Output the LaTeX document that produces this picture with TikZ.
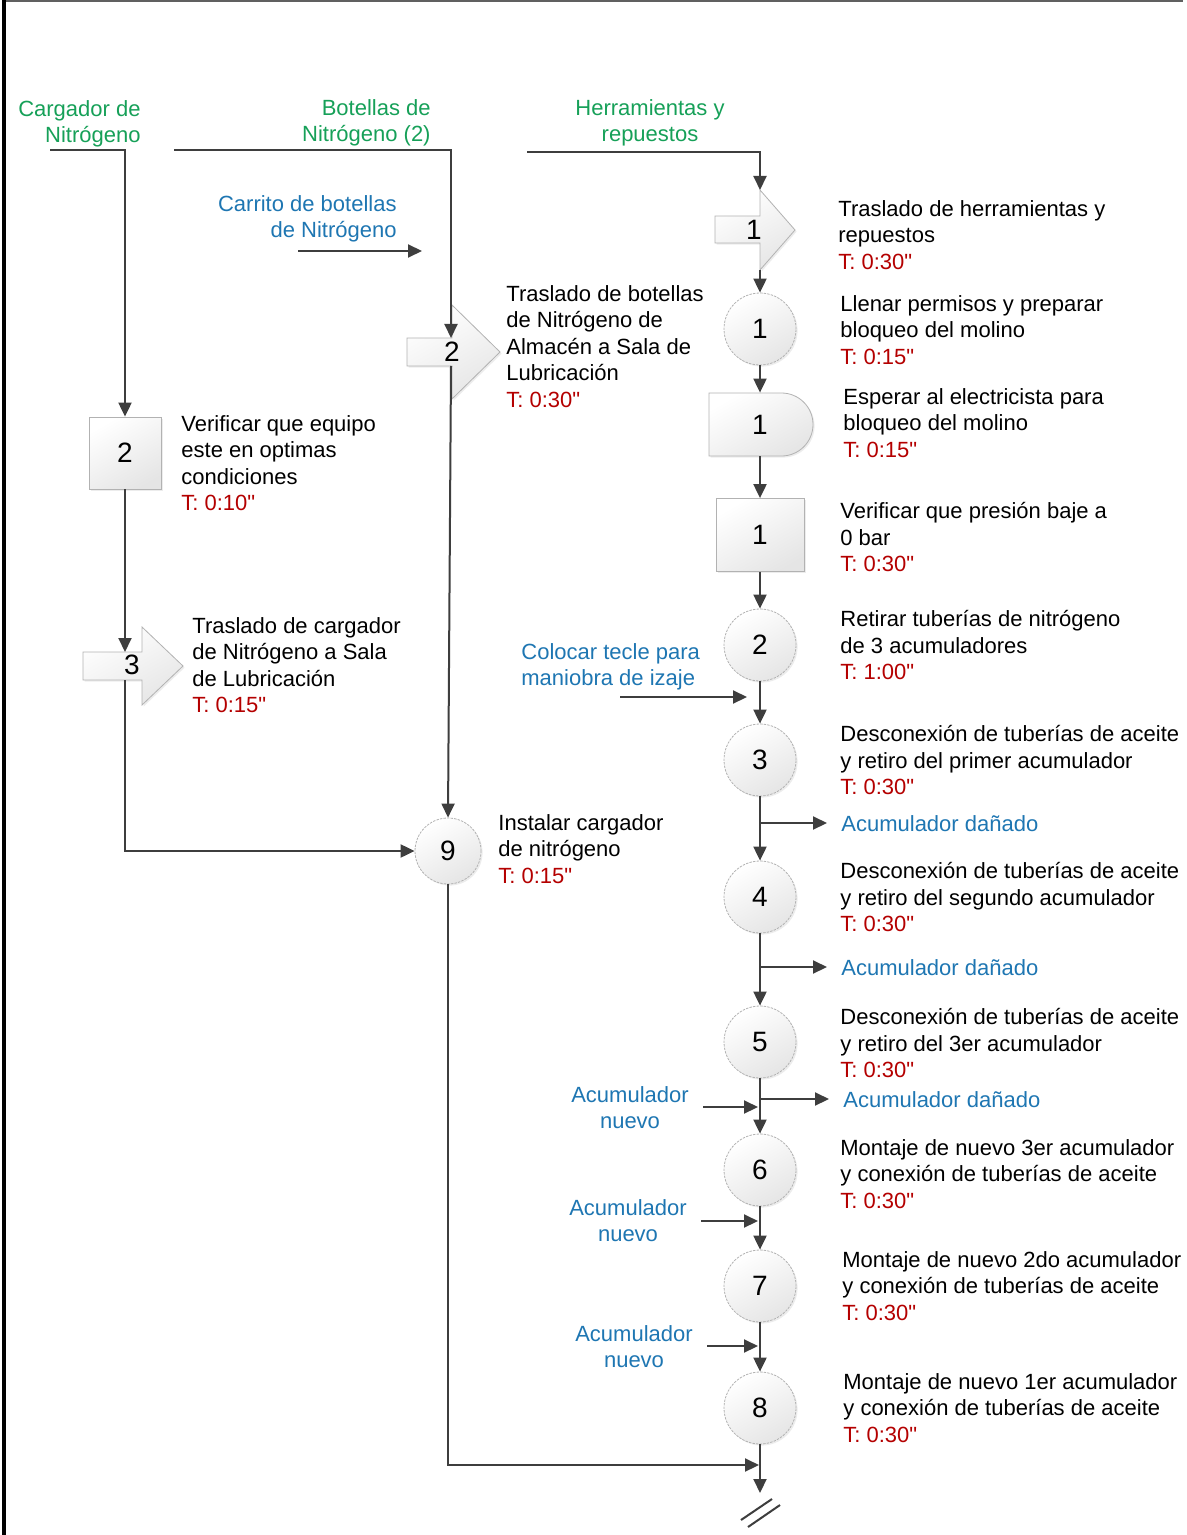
\documentclass[tikz,border=0pt]{standalone}
\usepackage{fontspec}
\setmainfont{Liberation Sans}[Ligatures=TeXOff]
\usetikzlibrary{arrows.meta,shadows}

\definecolor{lblgreen}{RGB}{22,160,88}
\definecolor{lblblue}{RGB}{30,118,178}
\definecolor{tred}{RGB}{180,0,0}
\definecolor{connclr}{RGB}{62,62,62}

\begin{document}
\begin{tikzpicture}[x=0.5pt,y=-0.5pt,
  flow/.style={draw=connclr, line width=1pt, -{Triangle[length=7pt,width=6.5pt]}},
  brk/.style={draw=connclr, line width=1pt},
  shapefill/.style={draw=gray!60, line width=0.4pt, top color=white, bottom color=gray!20, shading angle=30,
    drop shadow={shadow xshift=0.8pt, shadow yshift=-0.8pt, opacity=0.15}},
  numfont/.style={font=\fontsize{14}{16}\selectfont},
  opc/.style={circle, shapefill, dash pattern=on 1.2pt off 0.6pt, inner sep=0pt, numfont},
  insp/.style={rectangle, shapefill, inner sep=0pt, numfont},
  num/.style={inner sep=0pt, numfont},
  desc/.style={inner sep=0pt, anchor=north west, align=left, font=\fontsize{11}{13.25}\selectfont},
  greenlbl/.style={inner sep=0pt, text=lblgreen, font=\fontsize{11}{13.25}\selectfont},
  bluelbl/.style={inner sep=0pt, text=lblblue, font=\fontsize{11}{13.25}\selectfont}
]
\useasboundingbox (0,0) rectangle (1187,1535);

% frame lines
\draw[gray!75!black, line width=1pt] (3,1) -- (1183,1);
\draw[black, line width=2pt] (4,0) -- (4,1535);

% ---- right column: operations, delay and inspection ----
\path[shapefill] (715,216) -- (760,216) -- (760,190) -- (795,230) -- (760,270) -- (760,243) -- (715,243) -- cycle;
\node[num] (t1) at (754,230) {1};
\coordinate (t1in) at (760,190);
\coordinate (t1out) at (760,270);

\node[opc, minimum size=36pt] (c1) at (760,329) {1};

\path[shapefill] (709,393) -- (781.5,393) arc[start angle=-90, end angle=90, radius=31.5] -- (709,456) -- cycle;
\node[num, minimum width=52pt, minimum height=31.5pt] (d1) at (760,424.5) {1};

\node[insp, minimum width=44pt, minimum height=36.5pt] (r1) at (760,535) {1};

\node[opc, minimum size=36pt] (c2) at (760,645) {2};
\node[opc, minimum size=36pt] (c3) at (760,760) {3};
\node[opc, minimum size=36pt] (c4) at (760,897) {4};
\node[opc, minimum size=36pt] (c5) at (760,1042) {5};
\node[opc, minimum size=36pt] (c6) at (760,1170) {6};
\node[opc, minimum size=36pt] (c7) at (760,1286) {7};
\node[opc, minimum size=36pt] (c8) at (760,1408) {8};

% ---- middle column ----
\path[shapefill] (407,338) -- (452,338) -- (452,305) -- (500,352) -- (452,399) -- (452,366) -- (407,366) -- cycle;
\node[num] (t2) at (452,352) {2};
\coordinate (t2in) at (451,338);
\coordinate (t2out) at (451,366);

\node[opc, minimum size=33pt] (c9) at (448,851) {9};

% ---- left column ----
\node[insp, minimum width=36pt, minimum height=36pt] (b2) at (125,453) {2};

\path[shapefill] (83,652) -- (142,652) -- (142,627) -- (183,666) -- (142,705) -- (142,680) -- (83,680) -- cycle;
\node[num] (t3) at (132,665) {3};
\coordinate (t3in) at (125,652);
\coordinate (t3out) at (125,680);

% ---- input labels ----
\node[greenlbl, anchor=north east, align=right] (gcarg) at (141,100) {Cargador de\\Nitrógeno};
\node[greenlbl, anchor=north east, align=right] (gbot) at (431,99) {Botellas de\\Nitrógeno (2)};
\node[greenlbl, anchor=north, align=center] (gherr) at (650,99) {Herramientas y\\repuestos};
\node[bluelbl, anchor=north east, align=right] (bcarr) at (397,195) {Carrito de botellas\\de Nitrógeno};
\node[bluelbl, anchor=north west, align=left] (btecle) at (521,643) {Colocar tecle para\\maniobra de izaje};
\node[bluelbl, anchor=north, align=center] (bnue5) at (630,1086) {Acumulador\\nuevo};
\node[bluelbl, anchor=north, align=center] (bnue6) at (628,1199) {Acumulador\\nuevo};
\node[bluelbl, anchor=north, align=center] (bnue7) at (634,1325) {Acumulador\\nuevo};
\node[bluelbl, anchor=north west] (bdan3) at (841,815) {Acumulador dañado};
\node[bluelbl, anchor=north west] (bdan4) at (841,959) {Acumulador dañado};
\node[bluelbl, anchor=north west] (bdan5) at (843,1091) {Acumulador dañado};

% ---- step descriptions ----
\node[desc] (l1) at (838,200) {Traslado de herramientas y\\repuestos\\\textcolor{tred}{T: 0:30"}};
\node[desc] (l2) at (840,295) {Llenar permisos y preparar\\bloqueo del molino\\\textcolor{tred}{T: 0:15"}};
\node[desc] (l3) at (843,388) {Esperar al electricista para\\bloqueo del molino\\\textcolor{tred}{T: 0:15"}};
\node[desc] (l4) at (840,502) {Verificar que presión baje a\\0 bar\\\textcolor{tred}{T: 0:30"}};
\node[desc] (l5) at (840,610) {Retirar tuberías de nitrógeno\\de 3 acumuladores\\\textcolor{tred}{T: 1:00"}};
\node[desc] (l6) at (840,725) {Desconexión de tuberías de aceite\\y retiro del primer acumulador\\\textcolor{tred}{T: 0:30"}};
\node[desc] (l7) at (840,862) {Desconexión de tuberías de aceite\\y retiro del segundo acumulador\\\textcolor{tred}{T: 0:30"}};
\node[desc] (l8) at (840,1008) {Desconexión de tuberías de aceite\\y retiro del 3er acumulador\\\textcolor{tred}{T: 0:30"}};
\node[desc] (l9) at (840,1139) {Montaje de nuevo 3er acumulador\\y conexión de tuberías de aceite\\\textcolor{tred}{T: 0:30"}};
\node[desc] (l10) at (842,1251) {Montaje de nuevo 2do acumulador\\y conexión de tuberías de aceite\\\textcolor{tred}{T: 0:30"}};
\node[desc] (l11) at (843,1373) {Montaje de nuevo 1er acumulador\\y conexión de tuberías de aceite\\\textcolor{tred}{T: 0:30"}};
\node[desc] (l12) at (506,285) {Traslado de botellas\\de Nitrógeno de\\Almacén a Sala de\\Lubricación\\\textcolor{tred}{T: 0:30"}};
\node[desc] (l13) at (181,415) {Verificar que equipo\\este en optimas\\condiciones\\\textcolor{tred}{T: 0:10"}};
\node[desc] (l14) at (192,617) {Traslado de cargador\\de Nitrógeno a Sala\\de Lubricación\\\textcolor{tred}{T: 0:15"}};
\node[desc] (l15) at (498,814) {Instalar cargador\\de nitrógeno\\\textcolor{tred}{T: 0:15"}};

% ---- connector end points ----
\coordinate (cgin) at (50,150);
\coordinate (btin) at (174,150);
\coordinate (hrin) at (527,152);
\coordinate (ca0) at (298,251);
\coordinate (ca1) at (422,251);
\coordinate (tc0) at (620,697);
\coordinate (tc1) at (747,697);
\coordinate (s3) at (760,823);
\coordinate (e3) at (827,823);
\coordinate (s4) at (760,967);
\coordinate (e4) at (827,967);
\coordinate (s5) at (760,1099);
\coordinate (e5) at (829,1099);
\coordinate (a5) at (703,1107);
\coordinate (j5) at (758,1107);
\coordinate (a6) at (701,1221);
\coordinate (j6) at (758,1221);
\coordinate (a7) at (707,1346);
\coordinate (j7) at (758,1346);
\coordinate (fin) at (759,1465);
\coordinate (endpt) at (760,1493);

% ---- connectors ----
\draw[flow] (cgin) -| (b2.north);
\draw[flow] (btin) -| (t2in);
\draw[flow] (hrin) -| (t1in);
\draw[flow] (ca0) -- (ca1);
\draw[flow] (b2.south) -- (t3in);
\draw[flow] (t3out) |- (c9.west);
\draw[flow] (t2out) -- (c9.north);
\draw[flow] (c9.south) |- (fin);

\draw[flow] (t1out) -- (c1.north);
\draw[flow] (c1.south) -- (d1.north);
\draw[flow] (d1.south) -- (r1.north);
\draw[flow] (r1.south) -- (c2.north);
\draw[flow] (c2.south) -- (c3.north);
\draw[flow] (tc0) -- (tc1);
\draw[flow] (c3.south) -- (c4.north);
\draw[flow] (s3) -- (e3);
\draw[flow] (c4.south) -- (c5.north);
\draw[flow] (s4) -- (e4);
\draw[flow] (c5.south) -- (c6.north);
\draw[flow] (s5) -- (e5);
\draw[flow] (a5) -- (j5);
\draw[flow] (c6.south) -- (c7.north);
\draw[flow] (a6) -- (j6);
\draw[flow] (c7.south) -- (c8.north);
\draw[flow] (a7) -- (j7);
\draw[flow] (c8.south) -- (endpt);

% break mark below the last step
\draw[brk] (741,1520) -- (772,1499);
\draw[brk] (748,1527) -- (780,1505);
\end{tikzpicture}
\end{document}
